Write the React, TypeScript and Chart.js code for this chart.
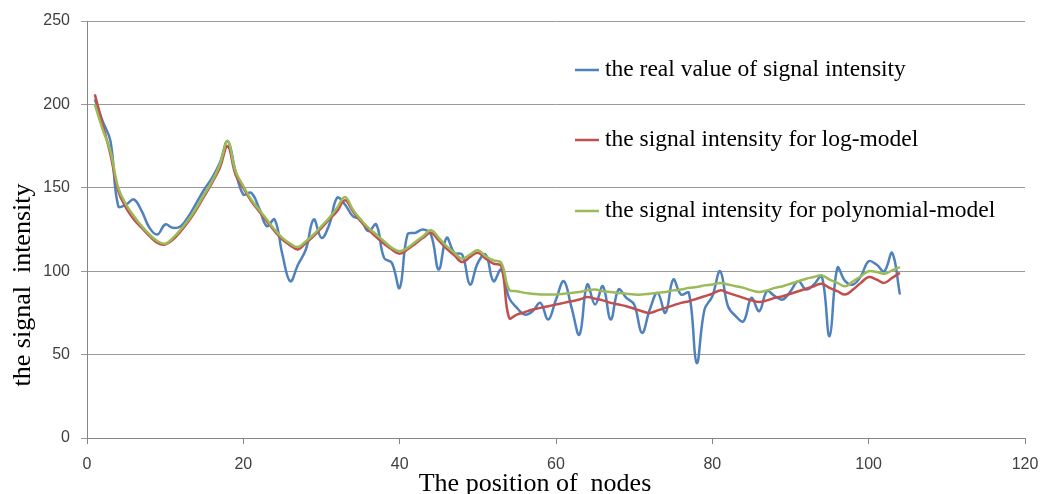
import { useEffect, useRef } from 'react';
import { Chart, registerables } from 'chart.js';

Chart.register(...registerables);

// node positions 1..104
const nodePositions: number[] = Array.from({ length: 104 }, (_, i) => i + 1);

const xTicks = [0, 20, 40, 60, 80, 100, 120];
const yTicks = [0, 50, 100, 150, 200, 250];

const realValues: number[] = [
  203, 190, 178, 139, 140, 143, 136, 126, 122, 128,
  126, 127, 133, 141, 149, 156, 165, 178, 160, 146,
  147, 138, 127, 131, 110, 94, 104, 113, 131, 120,
  128, 144, 140, 133, 131, 124, 128, 108, 105, 90,
  122, 123, 125, 122, 101, 120, 111, 110, 92, 105,
  110, 94, 101, 84, 78, 74, 76, 81, 71, 83,
  94, 78, 62, 92, 80, 91, 71, 89, 84, 80,
  63, 77, 87, 75, 95, 86, 87, 45, 77, 85,
  100, 79, 73, 70, 84, 76, 88, 85, 83, 88,
  94, 89, 92, 97, 61, 102, 94, 92, 97, 106,
  104, 100, 111, 86,
];

const logModel: number[] = [
  206, 188, 170, 148, 138, 131, 126, 121, 117, 116,
  119, 124, 130, 137, 145, 153, 162, 175, 158, 150,
  142, 136, 130, 124, 119, 115.5, 113, 117, 121, 126,
  131, 136, 142.5, 136, 130, 125, 120.5, 116.5, 113, 110.5,
  113, 116.5, 120, 123, 118.5, 113.5, 109.5, 105.5, 108.5, 111,
  107.5, 104.5, 103, 72, 74, 75.5, 77, 78, 79, 80,
  81, 82, 83, 84.5, 83.5, 82.5, 81, 80, 79, 77.5,
  76, 75, 76.5, 78, 79.5, 81, 82, 83.5, 85, 86.5,
  88.5, 87, 85.5, 84, 82.5, 81.5, 82.5, 84, 85, 86.5,
  88, 89.5, 91, 92.5, 90, 88, 86, 89, 93, 96.5,
  95, 93, 96, 99,
];

const polyModel: number[] = [
  200, 185, 172, 150, 140, 133, 127, 122, 118, 116.5,
  120, 125, 131, 138, 146, 154, 164, 178, 160, 151,
  143, 137, 131, 125, 120, 116.5, 114.5, 118, 122, 127,
  132, 138, 144.5, 137, 131, 126, 122, 118, 114, 112,
  114, 117.5, 121, 124.5, 120, 115, 111, 107.5, 110, 112.5,
  109, 106.5, 105, 89, 88, 87, 86.5, 86, 86, 86,
  86.5, 87, 87.5, 88.5, 89, 88, 87.5, 87, 86.5, 86,
  86, 86.5, 87, 87.5, 88.5, 89, 90, 90.5, 91.5, 92,
  93, 92, 91, 90, 88.5, 87.5, 88.5, 90, 91, 92.5,
  94, 95.5, 96.5, 97.5, 95, 93, 91, 94, 97, 100,
  99.5, 98.5, 100.5, 102.5,
];

const seriesLabels = [
  'the real value of signal intensity',
  'the signal intensity for log-model',
  'the signal intensity for polynomial-model',
];
const seriesColors = ['#4F81BD', '#C0504D', '#9BBB59'];

const xTitle = 'The position of  nodes';
const yTitle = 'the signal  intensity';

const toPoints = (vals: number[]) => vals.map((v, i) => ({ x: nodePositions[i], y: v }));

const overlayPlugin = {
  id: 'overlay',
  afterDraw(chart: any) {
    const ctx = chart.ctx;
    ctx.save();
    // legend
    ctx.font = '23.5px "Liberation Serif", "Times New Roman", serif';
    ctx.textBaseline = 'middle';
    ctx.textAlign = 'left';
    const legendY = [70, 140, 211];
    seriesLabels.forEach((label, i) => {
      ctx.strokeStyle = seriesColors[i];
      ctx.lineWidth = 2.5;
      ctx.beginPath();
      ctx.moveTo(575, legendY[i]);
      ctx.lineTo(599, legendY[i]);
      ctx.stroke();
      ctx.fillStyle = '#000';
      ctx.fillText(label, 605, legendY[i]);
    });
    // axis titles
    ctx.font = '26px "Liberation Serif", "Times New Roman", serif';
    ctx.fillStyle = '#000';
    ctx.textAlign = 'center';
    ctx.textBaseline = 'alphabetic';
    ctx.fillText(xTitle, 535, 491);
    ctx.translate(30, 285);
    ctx.rotate(-Math.PI / 2);
    ctx.fillText(yTitle, 0, 0);
    ctx.restore();
  },
};

export default function App() {
  const canvasRef = useRef<HTMLCanvasElement | null>(null);

  useEffect(() => {
    if (!canvasRef.current) return;
    const tickFont = { family: '"Liberation Sans", Arial, sans-serif', size: 16 };
    const chart = new Chart(canvasRef.current, {
      type: 'line',
      data: {
        datasets: [
          {
            label: seriesLabels[0],
            data: toPoints(realValues),
            borderColor: seriesColors[0],
            backgroundColor: seriesColors[0],
            borderWidth: 2.5,
            pointRadius: 0,
            tension: 0.4,
            order: 3,
          },
          {
            label: seriesLabels[1],
            data: toPoints(logModel),
            borderColor: seriesColors[1],
            backgroundColor: seriesColors[1],
            borderWidth: 2.5,
            pointRadius: 0,
            tension: 0.4,
            order: 2,
          },
          {
            label: seriesLabels[2],
            data: toPoints(polyModel),
            borderColor: seriesColors[2],
            backgroundColor: seriesColors[2],
            borderWidth: 2.5,
            pointRadius: 0,
            tension: 0.4,
            order: 1,
          },
        ],
      },
      options: {
        responsive: false,
        animation: false,
        layout: { padding: { left: 0, right: 16, top: 21, bottom: 0 } },
        plugins: {
          legend: { display: false },
          tooltip: { enabled: false },
        },
        scales: {
          x: {
            type: 'linear',
            min: 0,
            max: 120,
            afterBuildTicks: (s: any) => {
              s.ticks = xTicks.map((v) => ({ value: v }));
            },
            afterFit: (s: any) => {
              s.height = 56;
              s.paddingLeft = 0;
              s.paddingRight = 0;
            },
            grid: {
              drawOnChartArea: false,
              drawTicks: true,
              tickLength: 6,
              color: '#868686',
            },
            border: { display: true, color: '#868686', width: 1 },
            ticks: { font: tickFont, color: '#404040', padding: 11, maxRotation: 0 },
          },
          y: {
            type: 'linear',
            min: 0,
            max: 250,
            afterBuildTicks: (s: any) => {
              s.ticks = yTicks.map((v) => ({ value: v }));
            },
            afterFit: (s: any) => {
              s.width = 87;
              s.paddingTop = 0;
              s.paddingBottom = 0;
            },
            grid: {
              drawOnChartArea: true,
              drawTicks: true,
              tickLength: 6,
              color: '#9a9a9a',
              lineWidth: 1,
            },
            border: { display: true, color: '#868686', width: 1 },
            ticks: { font: tickFont, color: '#404040', padding: 11 },
          },
        },
      },
      plugins: [overlayPlugin],
    });
    return () => chart.destroy();
  }, []);

  return (
    <div style={{ position: 'fixed', left: 0, top: 0, width: 1041, height: 494, background: '#fff' }}>
      <canvas ref={canvasRef} width={1041} height={494} style={{ display: 'block' }} />
    </div>
  );
}
